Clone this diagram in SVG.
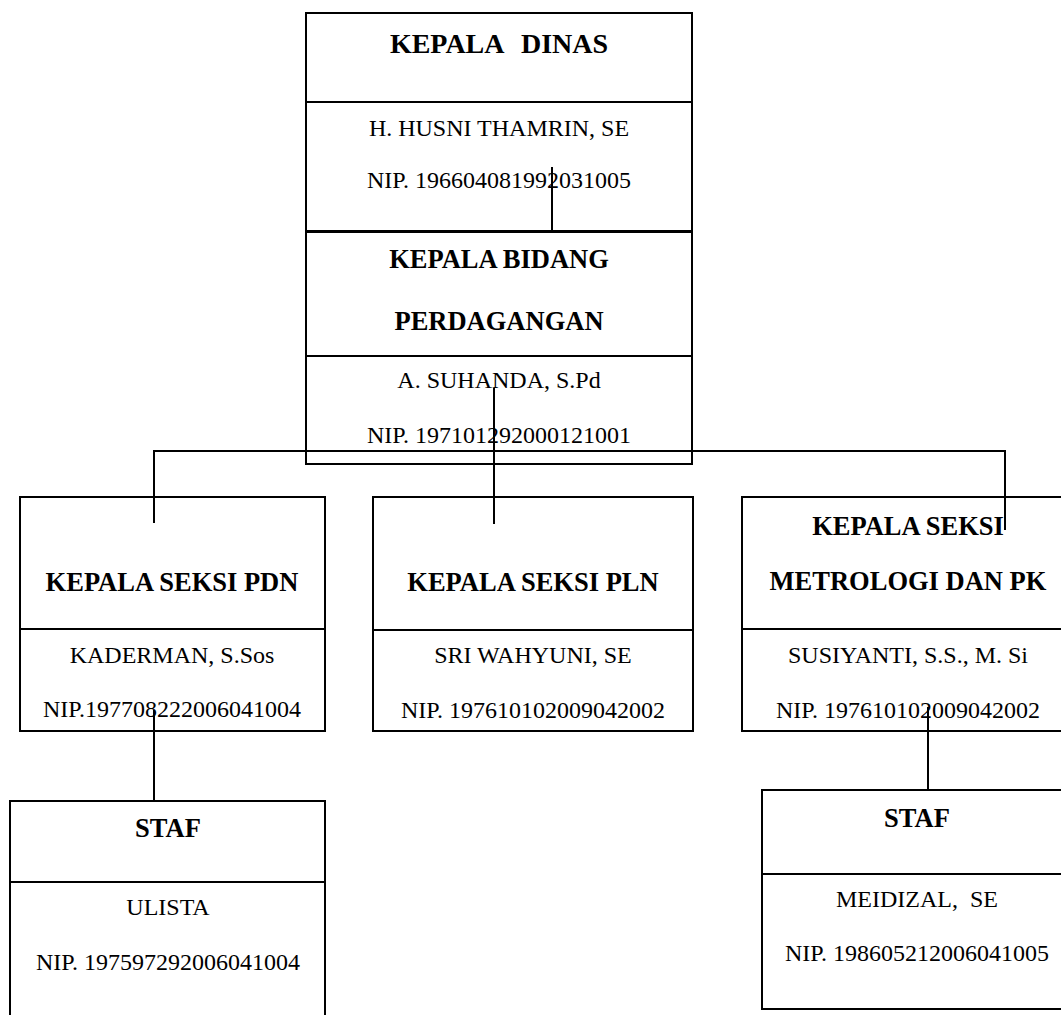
<svg xmlns="http://www.w3.org/2000/svg" width="1061" height="1015" viewBox="0 0 1061 1015">
<style>
.box{fill:none;stroke:#000;stroke-width:2}
.ln{fill:none;stroke:#000;stroke-width:2}
.b{font-family:"Liberation Serif","Times New Roman",serif;font-weight:bold;font-size:26.5px;fill:#000;text-anchor:middle}
.r{font-family:"Liberation Serif","Times New Roman",serif;font-size:24px;fill:#000;text-anchor:middle}
</style>
<rect width="1061" height="1015" fill="#fff"/>
<g id="kepala-dinas">
<rect class="box" x="306" y="13" width="386" height="218"/>
<line class="ln" x1="306" y1="102" x2="692" y2="102"/>
<text class="b" x="499" y="53" xml:space="preserve" style="font-size:28px" word-spacing="2">KEPALA  DINAS</text>
<text class="r" x="499" y="136">H. HUSNI THAMRIN, SE</text>
<text class="r" x="499" y="188">NIP. 196604081992031005</text>
</g>
<g id="kepala-bidang">
<rect class="box" x="306" y="232" width="386" height="232"/>
<line class="ln" x1="306" y1="356" x2="692" y2="356"/>
<text class="b" x="499" y="268">KEPALA BIDANG</text>
<text class="b" x="499" y="330">PERDAGANGAN</text>
<text class="r" x="499" y="388">A. SUHANDA, S.Pd</text>
<text class="r" x="499" y="443">NIP. 197101292000121001</text>
</g>
<g id="seksi-pdn">
<rect class="box" x="20" y="497" width="305" height="234"/>
<line class="ln" x1="20" y1="629" x2="325" y2="629"/>
<text class="b" x="172" y="591">KEPALA SEKSI PDN</text>
<text class="r" x="172" y="663">KADERMAN, S.Sos</text>
<text class="r" x="172" y="717">NIP.197708222006041004</text>
</g>
<g id="seksi-pln">
<rect class="box" x="373" y="497" width="320" height="234"/>
<line class="ln" x1="373" y1="630" x2="693" y2="630"/>
<text class="b" x="533" y="591">KEPALA SEKSI PLN</text>
<text class="r" x="533" y="663">SRI WAHYUNI, SE</text>
<text class="r" x="533" y="718">NIP. 197610102009042002</text>
</g>
<g id="seksi-metrologi">
<rect class="box" x="742" y="497" width="332" height="234"/>
<line class="ln" x1="742" y1="629" x2="1074" y2="629"/>
<text class="b" x="908" y="535">KEPALA SEKSI</text>
<text class="b" x="908" y="590">METROLOGI DAN PK</text>
<text class="r" x="908" y="663">SUSIYANTI, S.S., M. Si</text>
<text class="r" x="908" y="718">NIP. 197610102009042002</text>
</g>
<g id="staf-pdn">
<rect class="box" x="10" y="801" width="315" height="230"/>
<line class="ln" x1="10" y1="882" x2="325" y2="882"/>
<text class="b" x="168" y="837">STAF</text>
<text class="r" x="168" y="915">ULISTA</text>
<text class="r" x="168" y="970">NIP. 197597292006041004</text>
</g>
<g id="staf-metrologi">
<rect class="box" x="762" y="790" width="310" height="219"/>
<line class="ln" x1="762" y1="874" x2="1072" y2="874"/>
<text class="b" x="917" y="827">STAF</text>
<text class="r" x="917" y="907" xml:space="preserve">MEIDIZAL,  SE</text>
<text class="r" x="917" y="961">NIP. 198605212006041005</text>
</g>
<g id="connectors">
<line class="ln" x1="552" y1="167" x2="552" y2="231"/>
<line class="ln" x1="494" y1="388" x2="494" y2="524"/>
<polyline class="ln" points="154,523 154,451 1005,451 1005,530"/>
<line class="ln" x1="154" y1="710" x2="154" y2="801"/>
<line class="ln" x1="928" y1="707" x2="928" y2="790"/>
</g>
</svg>
